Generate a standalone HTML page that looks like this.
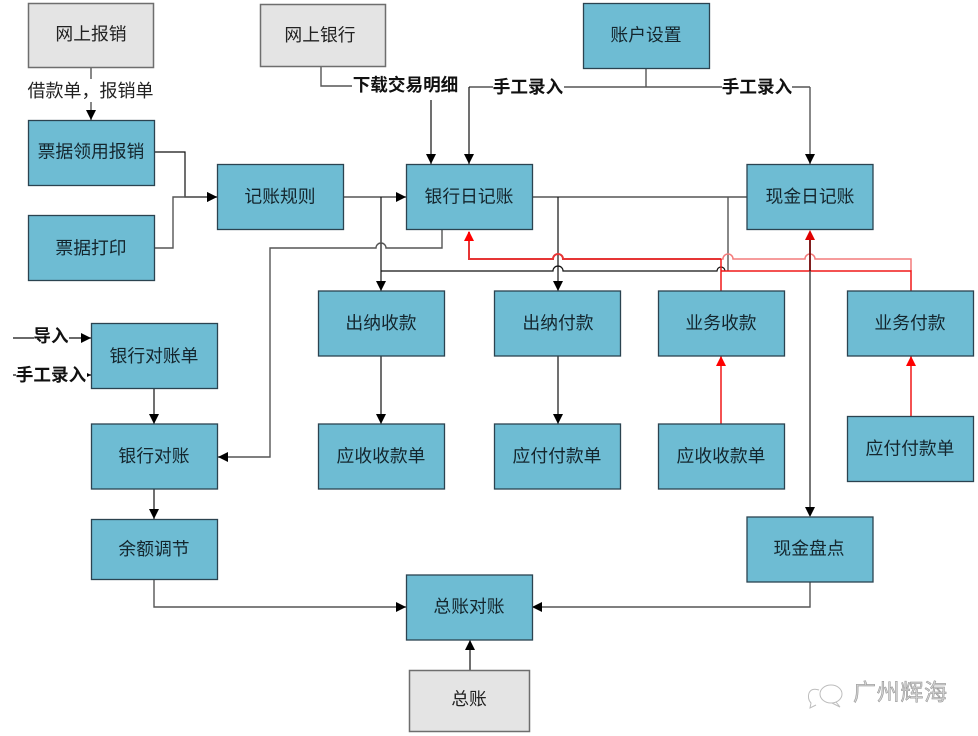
<!DOCTYPE html>
<html><head><meta charset="utf-8"><style>
html,body{margin:0;padding:0;background:#fff}
svg{display:block}
text{font-family:"Liberation Sans","Noto Sans CJK SC",sans-serif}
.b{fill:#6ebcd3;stroke:#2b4350;stroke-width:1.3}
.g{fill:#e4e4e4;stroke:#6e6e6e;stroke-width:1.5}
.t{font-size:17.8px;fill:#14262e;text-anchor:middle;dominant-baseline:central}
.tg{font-size:17.8px;fill:#222;text-anchor:middle;dominant-baseline:central}
.l{font-size:17.6px;font-weight:700;fill:#111;text-anchor:middle;dominant-baseline:central}
.k{fill:none;stroke:#111;stroke-width:1.2}
.dk{fill:none;stroke:#555;stroke-width:1.4}
.r{fill:none;stroke:#f01818;stroke-width:1.5}
.r2{fill:none;stroke:#e63535;stroke-width:2}
.rp{fill:none;stroke:#f47c7c;stroke-width:1.5}
</style></head><body>
<svg width="978" height="736" viewBox="0 0 978 736" xmlns="http://www.w3.org/2000/svg">
<defs>
<marker id="a" markerUnits="userSpaceOnUse" markerWidth="11" markerHeight="11" refX="10" refY="5" orient="auto"><path d="M0 0L10 5L0 10Z" fill="#000"/></marker>
<marker id="ar" markerUnits="userSpaceOnUse" markerWidth="11" markerHeight="11" refX="10" refY="5" orient="auto"><path d="M0 0L10 5L0 10Z" fill="#f00"/></marker>
</defs>
<rect width="978" height="736" fill="#fff"/>

<!-- connectors -->
<path class="dk" d="M91 68V120" marker-end="url(#a)"/>
<path class="k" d="M154 152H185V197H217" marker-end="url(#a)"/>
<path class="dk" d="M154 248H173V197H217" marker-end="url(#a)"/>
<path class="dk" d="M343 197H406" marker-end="url(#a)"/>
<path class="k" d="M381 197V291" marker-end="url(#a)"/>
<path class="dk" d="M442 230V248H386A5 5 0 0 0 376 248H270V457H218" marker-end="url(#a)"/>
<path class="dk" d="M321 67V86H360"/>
<path class="k" d="M431 100V164" marker-end="url(#a)"/>
<path class="dk" d="M646 69V87"/>
<path class="dk" d="M469 87H810"/>
<path class="k" d="M469 87V164" marker-end="url(#a)"/>
<path class="dk" d="M810 87V164" marker-end="url(#a)"/>
<path class="dk" d="M532 197H747"/>
<path class="k" d="M558 197V291" marker-end="url(#a)"/>
<path class="dk" d="M728 197V271"/>
<path class="k" d="M381 271H553A5 5 0 0 1 563 271H717A4 4 0 0 1 725 271"/>
<path class="r2" d="M721 259H563A5 5 0 0 0 553 259H469V232"/>
<path d="M469 231L474 241H464Z" fill="#f00"/>
<path class="rp" d="M721 259H723A5 5 0 0 1 733 259H805A5 5 0 0 1 815 259H911V271"/>
<path class="r" d="M721 259V291M721 271H911V291"/>
<path d="M810 240V507" fill="none" stroke="#555" stroke-width="1.6"/>
<path d="M810 517L805 507H815Z" fill="#000"/>
<path d="M810 230L805 240H815Z" fill="#e00000"/>
<path d="M810 240V271" fill="none" stroke="#7a0000" stroke-width="1.6"/>
<path class="k" d="M381 356V424" marker-end="url(#a)"/>
<path class="k" d="M558 356V424" marker-end="url(#a)"/>
<path class="r" d="M721 424V356" marker-end="url(#ar)"/>
<path class="r" d="M911 416V356" marker-end="url(#ar)"/>
<path class="k" d="M154 388V424" marker-end="url(#a)"/>
<path class="k" d="M154 489V519" marker-end="url(#a)"/>
<path class="dk" d="M154 580V607H406" marker-end="url(#a)"/>
<path class="dk" d="M810 582V607H532" marker-end="url(#a)"/>
<path class="k" d="M470 670V640" marker-end="url(#a)"/>
<path class="k" d="M13 338H91" marker-end="url(#a)"/>
<path class="k" d="M13 375H91" marker-end="url(#a)"/>

<!-- boxes -->
<rect class="g" x="28.5" y="3.5" width="125" height="64"/><text class="tg" x="91" y="34">网上报销</text>
<rect class="g" x="260.5" y="4.5" width="125" height="62"/><text class="tg" x="320" y="35">网上银行</text>
<rect class="g" x="409.5" y="670.5" width="120" height="61"/><text class="tg" x="469" y="699">总账</text>
<rect class="b" x="583.5" y="3.5" width="126" height="65"/><text class="t" x="646" y="35">账户设置</text>
<rect class="b" x="28.5" y="120.5" width="126" height="65"/><text class="t" x="91" y="151.500">票据领用报销</text>
<rect class="b" x="28.5" y="215.500" width="126" height="65"/><text class="t" x="91" y="248">票据打印</text>
<rect class="b" x="217.5" y="164.5" width="126" height="65"/><text class="t" x="280" y="196.500">记账规则</text>
<rect class="b" x="406.5" y="164.5" width="126" height="65"/><text class="t" x="469" y="196.500">银行日记账</text>
<rect class="b" x="747" y="164.5" width="126" height="65"/><text class="t" x="810" y="196.500">现金日记账</text>
<rect class="b" x="318.5" y="291" width="126" height="65"/><text class="t" x="381" y="323">出纳收款</text>
<rect class="b" x="494.5" y="291" width="126" height="65"/><text class="t" x="558" y="323">出纳付款</text>
<rect class="b" x="658.5" y="291" width="126" height="65"/><text class="t" x="721" y="323">业务收款</text>
<rect class="b" x="847.5" y="291" width="126" height="65"/><text class="t" x="910" y="323">业务付款</text>
<rect class="b" x="91.5" y="323.5" width="126" height="65"/><text class="t" x="154" y="356">银行对账单</text>
<rect class="b" x="91.5" y="424" width="126" height="65"/><text class="t" x="154" y="456">银行对账</text>
<rect class="b" x="318.5" y="424" width="126" height="65"/><text class="t" x="381" y="456">应收收款单</text>
<rect class="b" x="494.5" y="424" width="126" height="65"/><text class="t" x="557" y="456">应付付款单</text>
<rect class="b" x="658.5" y="424" width="126" height="65"/><text class="t" x="721" y="456">应收收款单</text>
<rect class="b" x="847.5" y="416.5" width="126" height="65"/><text class="t" x="910" y="448.500">应付付款单</text>
<rect class="b" x="91.5" y="519.5" width="126" height="60"/><text class="t" x="154" y="549">余额调节</text>
<rect class="b" x="747" y="517" width="126" height="65"/><text class="t" x="809" y="548.500">现金盘点</text>
<rect class="b" x="406.5" y="575" width="126" height="65"/><text class="t" x="469" y="606.500">总账对账</text>

<!-- labels -->
<rect x="27" y="79" width="127" height="23" fill="#fff"/>
<text x="90.500" y="91" font-size="18" fill="#222" text-anchor="middle" dominant-baseline="central">借款单，报销单</text>
<rect x="352" y="74" width="107" height="24" fill="#fff"/><text class="l" x="405.500" y="85">下载交易明细</text>
<rect x="493" y="76" width="71" height="22" fill="#fff"/><text class="l" x="528" y="87">手工录入</text>
<rect x="722" y="76" width="70" height="22" fill="#fff"/><text class="l" x="757" y="87">手工录入</text>
<rect x="34" y="327" width="35" height="22" fill="#fff"/><text class="l" x="51" y="336">导入</text>
<rect x="16" y="364" width="71" height="22" fill="#fff"/><text class="l" x="51" y="375">手工录入</text>

<!-- watermark -->
<g fill="none" stroke="#bdbdbd" stroke-width="1">
<path d="M819 690C808 686 806 698 811 703L810 708L816 705"/>
<ellipse cx="831" cy="694" rx="11" ry="9" fill="#fff"/>
<path d="M836 702L840 707L832 703"/>
</g>
<text x="853" y="692" font-size="23" fill="#d2d2d2" stroke="#8e8e8e" stroke-width=".5" dominant-baseline="central" textLength="94">广州辉海</text>
</svg>
</body></html>
